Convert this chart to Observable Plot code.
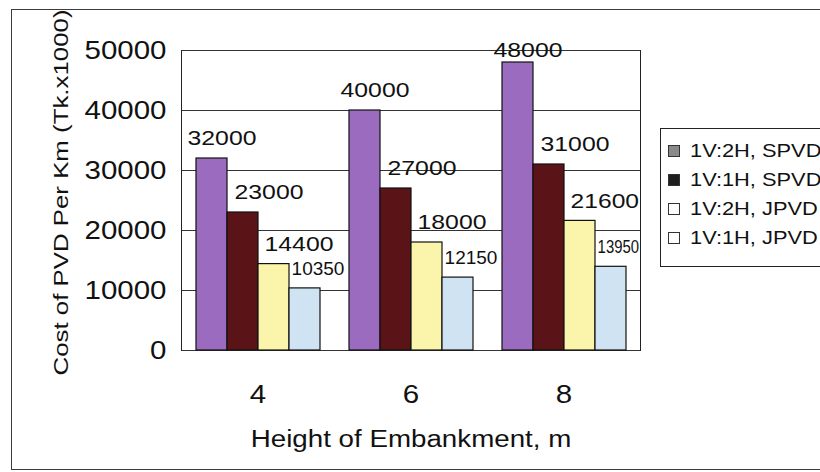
<!DOCTYPE html>
<html>
<head>
<meta charset="utf-8">
<script src="https://cdn.jsdelivr.net/npm/d3@7"></script>
<script src="https://cdn.jsdelivr.net/npm/@observablehq/plot@0.6"></script>
<style>
  body { margin: 0; background: #fff; font-family: "Liberation Sans", Arial, sans-serif; }
  #chart { position: relative; width: 820px; height: 472px; overflow: hidden; background: #fff; }
  #chart svg { position: absolute; left: 0; top: 0; }
  #outline { position: absolute; left: 11px; top: 9px; width: 830px; height: 461px;
             border: 1.5px solid #3c3c3c; box-sizing: border-box; }
  #legend { position: absolute; left: 660px; top: 128px; width: 180px; height: 139px;
            border: 1.2px solid #222; box-sizing: border-box; background: #fff; }
  .item { position: absolute; left: 7px; height: 22px; display: flex; align-items: center; }
  .swatch { width: 12px; height: 12px; border: 1px solid #333; box-sizing: border-box; }
  .name { display: inline-block; margin-left: 10px; font-size: 18.5px; color: #111;
          transform: scaleX(1.18); transform-origin: left center; white-space: nowrap; }
</style>
</head>
<body>
<div id="chart">
  <div id="outline"></div>
  <div id="legend"></div>
</div>
<script>
// Embankment heights (m) and PVD cost per km (Tk x 1000)
const heights = [4, 6, 8];
const series = ["1V:2H, SPVD", "1V:1H, SPVD", "1V:2H, JPVD", "1V:1H, JPVD"];
const spvdSlope2 = [32000, 40000, 48000];
const spvdSlope1 = [23000, 27000, 31000];
const jpvdSlope2 = [14400, 18000, 21600];
const jpvdSlope1 = [10350, 12150, 13950];
const yTicks = [0, 10000, 20000, 30000, 40000, 50000];

const barFills = ["#9b6bbf", "#5a1417", "#fbf5ab", "#cfe3f2"];
const legendFills = ["#8a8a8a", "#1e1e1e", "#ffffff", "#ffffff"];

const valuesBySeries = [spvdSlope2, spvdSlope1, jpvdSlope2, jpvdSlope1];
const rows = heights.flatMap((h, i) =>
  valuesBySeries.map((vals, s) => ({height: h, series: series[s], value: vals[i]}))
);

// value labels: horizontal nudge and size per series
const labelShift = [10, 26, 25, 13];
const labelSize = [21, 21, 21, 19];

const W = 820, H = 472;
const mLeft = 180, mRight = 180, mTop = 50, mBottom = 122;

const chart = Plot.plot({
  width: W,
  height: H,
  marginLeft: mLeft,
  marginRight: mRight,
  marginTop: mTop,
  marginBottom: mBottom,
  style: {fontFamily: "'Liberation Sans', Arial, sans-serif", color: "#111", background: "transparent"},
  fx: {domain: heights, padding: 0},
  x: {domain: series, paddingInner: 0, paddingOuter: 0.4, axis: null},
  y: {domain: [0, 50000]},
  color: {domain: series, range: barFills},
  marks: [
    Plot.gridY(yTicks, {stroke: "#333", strokeOpacity: 1, strokeWidth: 1}),
    Plot.frame({anchor: "left", facetAnchor: "left", stroke: "#222"}),
    Plot.frame({anchor: "right", facetAnchor: "right", stroke: "#222"}),
    Plot.barY(rows, {fx: "height", x: "series", y: "value", fill: "series", stroke: "#111", strokeWidth: 1.2}),
    ...series.map((s, i) =>
      Plot.text(rows.filter(d => d.series === s), {
        fx: "height",
        x: "series",
        // sit about 20px above the bar, but stay inside the frame
        y: d => Math.min(d.value + 3300, 50000),
        text: d => String(d.value),
        dx: labelShift[i],
        fontSize: labelSize[i],
        fill: "#111",
        ariaLabel: d => (i === 3 ? "small-label " : "value-label ") + d.value
      })
    ),
    Plot.axisY({
      ticks: yTicks,
      tickFormat: d => String(d),
      tickSize: 0,
      tickPadding: 15,
      fontSize: 25,
      label: "Cost of PVD Per Km (Tk.x1000)",
      labelAnchor: "center",
      labelArrow: "none",
      labelOffset: 128
    }),
    Plot.axisFx({
      anchor: "bottom",
      tickSize: 0,
      tickPadding: 35,
      fontSize: 25,
      label: "Height of Embankment, m",
      labelAnchor: "center",
      labelArrow: "none",
      labelOffset: 96
    })
  ]
});

const holder = document.getElementById("chart");
holder.insertBefore(chart, document.getElementById("legend"));

// axis titles are a little smaller than the tick labels
const yTitle = chart.querySelector('[aria-label="y-axis label"] text');
const xTitle = chart.querySelector('[aria-label="fx-axis label"] text');
if (xTitle) xTitle.setAttribute("font-size", 23.5);

// the typeface is set wide: stretch glyphs horizontally
function widen(el, k) {
  const len = el.getComputedTextLength();
  if (len > 0) {
    el.setAttribute("textLength", (len * k).toFixed(1));
    el.setAttribute("lengthAdjust", "spacingAndGlyphs");
  }
}
chart.querySelectorAll("text").forEach(t => {
  const al = t.getAttribute("aria-label") || "";
  if (al.startsWith("small-label") || t === yTitle) return;
  widen(t, 1.18);
});

// vertical title: a touch longer and raised slightly above the frame's middle
if (yTitle) {
  yTitle.setAttribute("font-size", 21);
  widen(yTitle, 1.23);
  yTitle.setAttribute("x", 8);
}

// squeeze labels that would run past the right edge of the plot area
const svgBox = chart.getBoundingClientRect();
const plotRight = svgBox.left + W - mRight - 1;
chart.querySelectorAll('text[aria-label*="-label "]').forEach(t => {
  const r = t.getBoundingClientRect();
  const over = r.right - plotRight;
  if (over > 0) {
    const len = +(t.getAttribute("textLength") || t.getComputedTextLength());
    t.setAttribute("textLength", (len - over).toFixed(1));
    t.setAttribute("lengthAdjust", "spacingAndGlyphs");
    const x0 = +(t.getAttribute("x") || 0);
    t.setAttribute("x", (x0 - over / 2).toFixed(1));
  }
});

// legend
const legend = document.getElementById("legend");
series.forEach((s, i) => {
  const item = document.createElement("div");
  item.className = "item";
  item.style.top = (11 + i * 29) + "px";
  const sw = document.createElement("span");
  sw.className = "swatch";
  sw.style.background = legendFills[i];
  const name = document.createElement("span");
  name.className = "name";
  name.textContent = s;
  item.appendChild(sw);
  item.appendChild(name);
  legend.appendChild(item);
});
</script>
</body>
</html>
